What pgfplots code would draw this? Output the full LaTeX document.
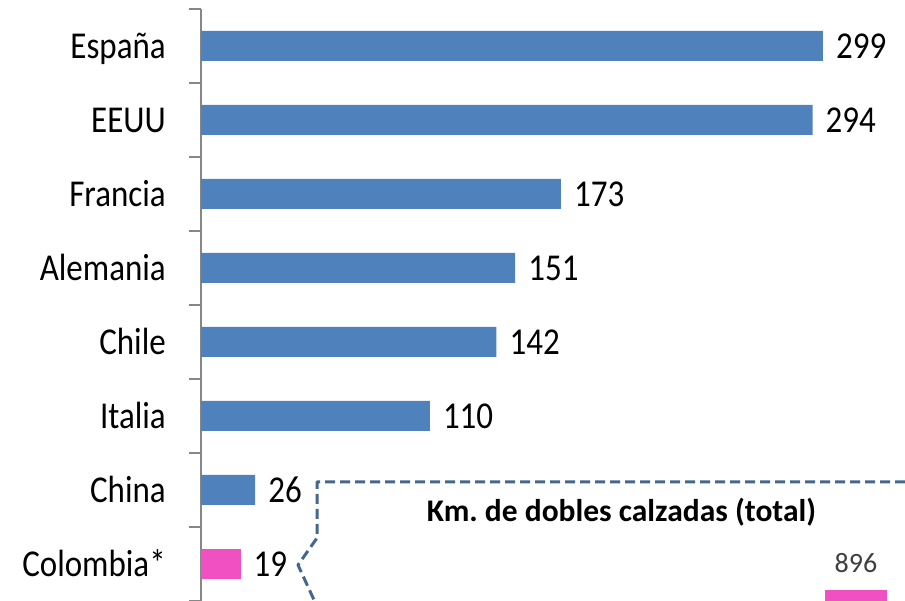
\documentclass[border=0pt]{standalone}
\usepackage{fontspec}
\setmainfont{Carlito}
\usepackage{graphicx}
\usepackage{pgfplots}
\pgfplotsset{compat=1.18}
\definecolor{barblue}{HTML}{4F81BD}
\definecolor{barpink}{HTML}{F050C2}
\definecolor{dashblue}{HTML}{44678F}
\definecolor{axgray}{HTML}{878787}
\definecolor{txtgray}{HTML}{3F3F3F}
\newcommand{\lbl}[1]{\scalebox{1}[1.15]{#1}}
\begin{document}
\frenchspacing
\begin{tikzpicture}[x=1bp,y=1bp]
\useasboundingbox (0,0) rectangle (905,601);
\clip (0,0) rectangle (905,601);
\begin{axis}[
  at={(201bp,0bp)}, anchor=south west,
  scale only axis, width=707.2bp, height=592bp,
  xmin=0, xmax=340, ymin=-0.5, ymax=7.5,
  xbar, bar width=30bp, bar shift=0pt,
  axis x line=none, axis y line*=left,
  axis line style={axgray, line width=1.5bp, -},
  /pgf/number format/assume math mode=true,
  ytick={0,...,7},
  yticklabels={\lbl{Colombia*},\lbl{China},\lbl{Italia},\lbl{Chile},\lbl{Alemania},\lbl{Francia},\lbl{EEUU},\lbl{España}},
  minor ytick={-0.5,0.5,...,7.5},
  major tick length=0pt, minor tick length=12bp,
  tick align=outside,
  tick style={axgray, line width=1.5bp},
  yticklabel style={anchor=base east, inner sep=0pt, xshift=-35bp, yshift=-12.2bp, font=\fontsize{33bp}{36bp}\selectfont, text=black},
  nodes near coords={\lbl{\pgfmathprintnumber{\pgfplotspointmeta}}},
  nodes near coords style={anchor=base west, inner sep=0pt, xshift=13bp, yshift=-12.2bp, font=\fontsize{33bp}{36bp}\selectfont, text=black},
  clip=false,
]
\addplot[fill=barblue, draw=none] coordinates {(26,1) (110,2) (142,3) (151,4) (173,5) (294,6) (299,7)};
\addplot[fill=barpink, draw=none] coordinates {(19,0)};
\end{axis}
\begin{axis}[
  at={(825bp,-200bp)}, anchor=south west,
  scale only axis, width=62bp, height=211bp,
  xmin=-0.5, xmax=0.5, ymin=0, ymax=896,
  ybar, bar width=62bp, bar shift=0pt,
  hide axis, clip=false,
  /pgf/number format/assume math mode=true,
  nodes near coords={\pgfmathprintnumber{\pgfplotspointmeta}},
  nodes near coords style={anchor=south, inner sep=0pt, yshift=17bp, font=\fontsize{28bp}{30bp}\selectfont, text=txtgray},
]
\addplot[fill=barpink, draw=none] coordinates {(0,896)};
\end{axis}
\draw[dashblue, line width=3bp, dash pattern=on 10bp off 5bp, line join=round]
  (320,-12) -- (298,36) -- (317,63) -- (317,119) -- (920,119);
\node[anchor=base, inner sep=0pt, font=\bfseries\fontsize{31.5bp}{33bp}\selectfont] at (621.5,79) {Km. de dobles calzadas (total)};
\end{tikzpicture}
\end{document}
